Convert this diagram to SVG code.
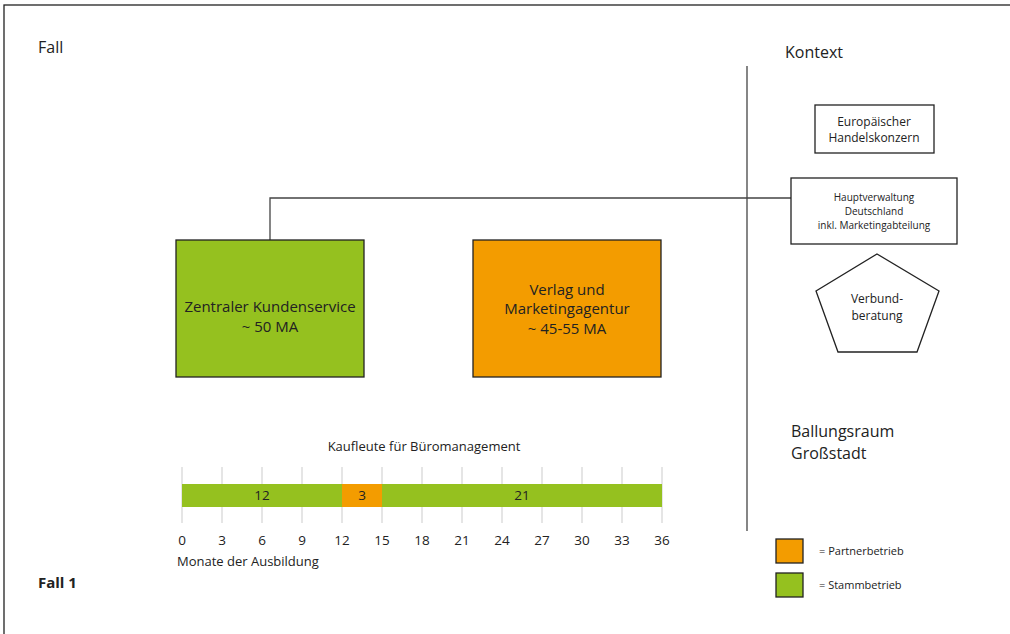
<svg xmlns="http://www.w3.org/2000/svg" width="1010" height="634" viewBox="0 0 1010 634">
<style>
text{font-family:"Open Sans","Noto Sans",sans-serif;fill:#222}
.box{stroke:#222;stroke-width:1.3}
.grn{fill:#95C11F}
.org{fill:#F39C00}
.wht{fill:#fff}
.tick{stroke:#ddd;stroke-width:1.5}
.ax{font-size:13.5px;text-anchor:middle}
.conn{fill:none;stroke:#444;stroke-width:1.3}
</style>
<rect x="4" y="5" width="1020" height="640" fill="none" stroke="#222" stroke-width="1.3"/>
<text x="38" y="53" font-size="16">Fall</text>
<text x="785" y="58" font-size="16">Kontext</text>
<text x="38" y="588" font-size="15" font-weight="bold">Fall 1</text>
<line x1="747" y1="66" x2="747" y2="531" stroke="#444" stroke-width="1.3"/>
<g id="connectors">
<path class="conn" d="M270 240 V198 H791"/>
</g>
<g id="kundenservice">
<rect class="box grn" x="176" y="240" width="188" height="137"/>
<text x="270" y="312" font-size="15" text-anchor="middle">Zentraler Kundenservice</text>
<text x="270" y="332" font-size="15" text-anchor="middle">~ 50 MA</text>
</g>
<g id="verlag">
<rect class="box org" x="473" y="240" width="188" height="137"/>
<text x="567" y="295" font-size="15" text-anchor="middle">Verlag und</text>
<text x="567" y="314" font-size="15" text-anchor="middle">Marketingagentur</text>
<text x="567" y="334" font-size="15" text-anchor="middle">~ 45-55 MA</text>
</g>
<g id="konzern">
<rect class="box wht" x="815" y="105" width="119" height="48"/>
<text x="874" y="126" font-size="12" text-anchor="middle">Europäischer</text>
<text x="874" y="142" font-size="12" text-anchor="middle">Handelskonzern</text>
</g>
<g id="hauptverwaltung">
<rect class="box wht" x="791" y="178" width="166" height="66"/>
<text x="874" y="201" font-size="10" text-anchor="middle">Hauptverwaltung</text>
<text x="874" y="215" font-size="10" text-anchor="middle">Deutschland</text>
<text x="874" y="229" font-size="10" text-anchor="middle">inkl. Marketingabteilung</text>
</g>
<g id="verbund">
<polygon class="box wht" points="877,254 939,291 917,352 838,352 816,291"/>
<text x="877" y="303" font-size="12" text-anchor="middle">Verbund-</text>
<text x="877" y="320" font-size="12" text-anchor="middle">beratung</text>
</g>
<text x="791" y="437" font-size="16">Ballungsraum</text>
<text x="791" y="459" font-size="16">Großstadt</text>
<g id="zeitachse">
<text x="424" y="451" font-size="13" text-anchor="middle">Kaufleute für Büromanagement</text>
<g class="tick">
<line x1="182" y1="467" x2="182" y2="523"/><line x1="222" y1="467" x2="222" y2="523"/><line x1="262" y1="467" x2="262" y2="523"/><line x1="302" y1="467" x2="302" y2="523"/><line x1="342" y1="467" x2="342" y2="523"/><line x1="382" y1="467" x2="382" y2="523"/><line x1="422" y1="467" x2="422" y2="523"/><line x1="462" y1="467" x2="462" y2="523"/><line x1="502" y1="467" x2="502" y2="523"/><line x1="542" y1="467" x2="542" y2="523"/><line x1="582" y1="467" x2="582" y2="523"/><line x1="622" y1="467" x2="622" y2="523"/><line x1="662" y1="467" x2="662" y2="523"/>
</g>
<rect class="grn" x="182" y="484" width="160" height="23"/>
<rect class="org" x="342" y="484" width="40" height="23"/>
<rect class="grn" x="382" y="484" width="280" height="23"/>
<text class="ax" x="262" y="500">12</text>
<text class="ax" x="362" y="500">3</text>
<text class="ax" x="522" y="500">21</text>
<text class="ax" x="182" y="545">0</text><text class="ax" x="222" y="545">3</text><text class="ax" x="262" y="545">6</text><text class="ax" x="302" y="545">9</text><text class="ax" x="342" y="545">12</text><text class="ax" x="382" y="545">15</text><text class="ax" x="422" y="545">18</text><text class="ax" x="462" y="545">21</text><text class="ax" x="502" y="545">24</text><text class="ax" x="542" y="545">27</text><text class="ax" x="582" y="545">30</text><text class="ax" x="622" y="545">33</text><text class="ax" x="662" y="545">36</text>
<text x="177" y="566" font-size="13">Monate der Ausbildung</text>
</g>
<g id="legende">
<rect class="box org" x="776" y="539" width="27" height="24"/>
<text x="819" y="555" font-size="11">= Partnerbetrieb</text>
<rect class="box grn" x="776" y="573" width="27" height="24"/>
<text x="819" y="589" font-size="11">= Stammbetrieb</text>
</g>
</svg>
